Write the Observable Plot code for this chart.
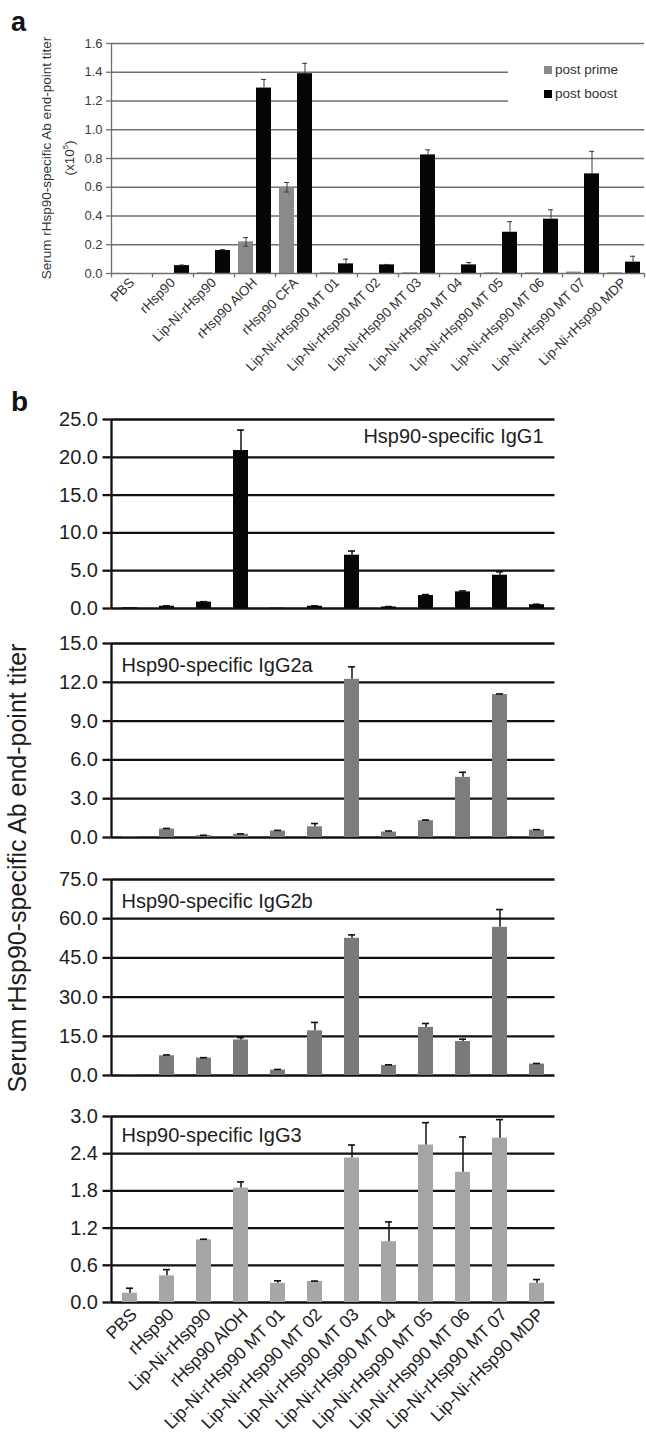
<!DOCTYPE html>
<html><head><meta charset="utf-8">
<script src="https://cdn.jsdelivr.net/npm/d3@7"></script>
<script src="https://cdn.jsdelivr.net/npm/@observablehq/plot@0.6"></script>
<style>
body{margin:0;background:#fff;font-family:"Liberation Sans",Arial,sans-serif;}
#root{position:relative;width:646px;height:1452px;overflow:hidden;background:#fff;}
.abs{position:absolute;}
</style></head><body><div id="root"></div>
<script>
// ---------- Panel a data ----------
const groupsA = ["PBS","rHsp90","Lip-Ni-rHsp90","rHsp90 AlOH","rHsp90 CFA",
  "Lip-Ni-rHsp90 MT 01","Lip-Ni-rHsp90 MT 02","Lip-Ni-rHsp90 MT 03","Lip-Ni-rHsp90 MT 04",
  "Lip-Ni-rHsp90 MT 05","Lip-Ni-rHsp90 MT 06","Lip-Ni-rHsp90 MT 07","Lip-Ni-rHsp90 MDP"];
const postPrime    = [0, 0, 0.005, 0.22, 0.60, 0.005, 0, 0.005, 0, 0.005, 0.005, 0.01, 0.005];
const postPrimeErr = [0, 0, 0, 0.03, 0.033, 0, 0, 0, 0, 0, 0, 0, 0];
const postBoost    = [0, 0.055, 0.16, 1.29, 1.39, 0.067, 0.06, 0.825, 0.06, 0.287, 0.378, 0.693, 0.079];
const postBoostErr = [0, 0.004, 0.006, 0.06, 0.072, 0.033, 0.003, 0.035, 0.016, 0.073, 0.065, 0.157, 0.041];
const yTicksA = [0, 0.2, 0.4, 0.6, 0.8, 1.0, 1.2, 1.4, 1.6];
const seriesA = ["post prime", "post boost"];

// ---------- Panel b data ----------
const groupsB = ["PBS","rHsp90","Lip-Ni-rHsp90","rHsp90 AlOH",
  "Lip-Ni-rHsp90 MT 01","Lip-Ni-rHsp90 MT 02","Lip-Ni-rHsp90 MT 03","Lip-Ni-rHsp90 MT 04",
  "Lip-Ni-rHsp90 MT 05","Lip-Ni-rHsp90 MT 06","Lip-Ni-rHsp90 MT 07","Lip-Ni-rHsp90 MDP"];
const igg1     = [0.1, 0.3, 0.85, 20.9, 0.05, 0.3, 7.05, 0.2, 1.72, 2.2, 4.4, 0.5];
const igg1Err  = [0, 0.05, 0.05, 2.7, 0, 0.05, 0.55, 0.05, 0.12, 0.12, 0.45, 0.06];
const igg2a    = [0.05, 0.65, 0.15, 0.25, 0.5, 0.83, 12.23, 0.42, 1.3, 4.65, 11.05, 0.57];
const igg2aErr = [0, 0.05, 0.02, 0.03, 0.05, 0.25, 0.97, 0.08, 0.05, 0.39, 0.05, 0.04];
const igg2b    = [0.2, 7.55, 6.67, 13.6, 2.07, 17.1, 52.5, 3.85, 18.4, 13.0, 56.7, 4.35];
const igg2bErr = [0, 0.3, 0.15, 0.9, 0.25, 3.2, 1.3, 0.25, 1.5, 0.9, 6.8, 0.25];
const igg3     = [0.15, 0.43, 1.01, 1.845, 0.31, 0.34, 2.33, 0.98, 2.54, 2.10, 2.65, 0.31];
const igg3Err  = [0.08, 0.1, 0.01, 0.1, 0.04, 0.005, 0.21, 0.32, 0.36, 0.57, 0.30, 0.06];
const ticksIgG1  = [0, 5, 10, 15, 20, 25];
const ticksIgG2a = [0, 3, 6, 9, 12, 15];
const ticksIgG2b = [0, 15, 30, 45, 60, 75];
const ticksIgG3  = [0, 0.6, 1.2, 1.8, 2.4, 3.0];

const W = 646;
const FONT = "'Liberation Sans', Arial, sans-serif";
const root = document.getElementById("root");
const fmt1 = d3.format(".1f");

function place(el, top, left = 0) {
  el.classList.add("abs");
  el.style.top = top + "px";
  el.style.left = left + "px";
  root.appendChild(el);
  return el;
}

// ================= Panel a =================
{
  const left = 111, right = 644, top = 43, bottom = 273, H = 392;
  const bw = (right - left) / groupsA.length;
  const rows = groupsA.map((g, i) => ({g, prime: postPrime[i], primeErr: postPrimeErr[i],
    boost: postBoost[i], boostErr: postBoostErr[i]}));
  const gInL = 4, gInR = bw - 19, bInL = 22, bInR = bw - 37;
  const plot = Plot.plot({
    width: W, height: H,
    marginLeft: left, marginRight: W - right, marginTop: top, marginBottom: H - bottom,
    x: {domain: groupsA, padding: 0, axis: null},
    y: {domain: [0, 1.6], axis: null},
    style: {fontFamily: FONT, background: "transparent", overflow: "visible"},
    marks: [
      Plot.ruleY(yTicksA.filter(v => v > 0), {stroke: "#6f6f6f", strokeWidth: 1.3}),
      Plot.axisY({ticks: yTicksA, tickFormat: fmt1, tickSize: 5, tickPadding: 4, label: null,
        stroke: "#6f6f6f", strokeWidth: 1.3, fill: "#3c3c3c", fontSize: 13}),
      Plot.barY(rows, {x: "g", y: "prime", fill: "#8a8a8a", insetLeft: gInL, insetRight: gInR}),
      Plot.barY(rows, {x: "g", y: "boost", fill: "#050505", insetLeft: bInL, insetRight: bInR}),
      // error bars
      Plot.ruleX(rows.filter(d => d.primeErr > 0), {x: "g", y1: d => d.prime - d.primeErr, y2: d => d.prime + d.primeErr,
        dx: -(bw / 2 - 11.5), stroke: "#3a3a3a", strokeWidth: 1}),
      Plot.tickY(rows.filter(d => d.primeErr > 0), {x: "g", y: d => d.prime + d.primeErr, stroke: "#3a3a3a",
        insetLeft: 9, insetRight: bw - 14, strokeWidth: 1}),
      Plot.tickY(rows.filter(d => d.primeErr > 0), {x: "g", y: d => d.prime - d.primeErr, stroke: "#3a3a3a",
        insetLeft: 9, insetRight: bw - 14, strokeWidth: 1}),
      Plot.ruleX(rows.filter(d => d.boostErr > 0), {x: "g", y1: "boost", y2: d => d.boost + d.boostErr,
        dx: 29.5 - bw / 2, stroke: "#3a3a3a", strokeWidth: 1}),
      Plot.tickY(rows.filter(d => d.boostErr > 0), {x: "g", y: d => d.boost + d.boostErr, stroke: "#3a3a3a",
        insetLeft: 27, insetRight: bw - 32, strokeWidth: 1}),
      // axes lines
      Plot.ruleY([0], {stroke: "#6f6f6f", strokeWidth: 1.3}),
      Plot.ruleX([groupsA[0]], {dx: -bw / 2, stroke: "#6f6f6f", strokeWidth: 1.3}),
      Plot.ruleX(groupsA, {x: d => d, dx: bw / 2, y1: 0, y2: -0.03, stroke: "#6f6f6f", strokeWidth: 1.3}),
      Plot.ruleX([groupsA[0]], {dx: -bw / 2, y1: 0, y2: -0.03, stroke: "#6f6f6f", strokeWidth: 1.3}),
      // category labels
      Plot.text(groupsA, {x: d => d, frameAnchor: "bottom", rotate: -45, textAnchor: "end",
        dx: 3, dy: 10, fontSize: 13.5, fill: "#333"})
    ]
  });
  place(plot, 0);
}

// legend of panel a (drawn over the plot area, like the original)
{
  const lg = document.createElement("div");
  lg.style.cssText = `width:137px;height:60px;background:#fff;font:13.5px ${FONT};color:#333;`;
  const colors = ["#8a8a8a", "#050505"];
  seriesA.forEach((s, i) => {
    const row = document.createElement("div");
    row.style.cssText = `position:absolute;left:36px;top:${9 + i * 24}px;white-space:nowrap;line-height:16px;`;
    row.innerHTML = `<span style="display:inline-block;width:8px;height:8px;background:${colors[i]};margin-right:3px;vertical-align:0px"></span>${s}`;
    lg.appendChild(row);
  });
  place(lg, 53, 508);
}

// panel a y label
{
  const d = document.createElement("div");
  d.style.cssText = `width:300px;font:13.5px/19px ${FONT};color:#333;text-align:center;transform:translate(-50%,-50%) rotate(-90deg);`;
  d.innerHTML = `Serum rHsp90-specific Ab end-point titer<br>(x10<sup style="font-size:8px">5</sup>)`;
  place(d, 158, 58);
}

// panel letters
{
  const a = document.createElement("div");
  a.style.cssText = `font:bold 27px/1 ${FONT};color:#111;`;
  a.textContent = "a";
  place(a, 9, 11);
  const b = document.createElement("div");
  b.style.cssText = `font:bold 28px/1 ${FONT};color:#111;`;
  b.textContent = "b";
  place(b, 388, 11);
}

// ================= Panel b =================
function panelB({values, errs, domain, ticks, color, title, titleRight, titleDy, svgTop, plotH, labels}) {
  const left = 110.5, right = 554.5, mt = 20;
  const mb = labels ? 150 : 12;
  const bw = (right - left) / groupsB.length;
  const rows = groupsB.map((g, i) => ({g, v: values[i], e: errs[i]}));
  const plot = Plot.plot({
    width: W, height: mt + plotH + mb,
    marginLeft: left, marginRight: W - right, marginTop: mt, marginBottom: mb,
    x: {domain: groupsB, padding: 0, axis: null},
    y: {domain, axis: null},
    style: {fontFamily: FONT, background: "transparent", overflow: "visible"},
    marks: [
      Plot.ruleY(ticks, {stroke: "#111", strokeWidth: 2.3}),
      Plot.axisY({ticks, tickFormat: fmt1, tickSize: 8, tickPadding: 5, label: null,
        stroke: "#111", strokeWidth: 2.3, fill: "#1e1e1e", fontSize: 20}),
      Plot.barY(rows, {x: "g", y: "v", fill: color, insetLeft: 11, insetRight: 11}),
      Plot.ruleX(rows.filter(d => d.e > 0), {x: "g", y1: "v", y2: d => d.v + d.e, stroke: "#111", strokeWidth: 1.5}),
      Plot.tickY(rows.filter(d => d.e > 0), {x: "g", y: d => d.v + d.e, stroke: "#111", strokeWidth: 1.6,
        insetLeft: bw / 2 - 3.5, insetRight: bw / 2 - 3.5}),
      Plot.ruleX([groupsB[0]], {dx: -bw / 2, stroke: "#111", strokeWidth: 2.3}),
      Plot.text([title], titleRight
        ? {frameAnchor: "top-right", dx: -11.5, dy: titleDy, fontSize: 20, fill: "#1e1e1e"}
        : {frameAnchor: "top-left", dx: 10.5, dy: titleDy, fontSize: 20, fill: "#1e1e1e"}),
      ...(labels ? [Plot.text(groupsB, {x: d => d, frameAnchor: "bottom", rotate: -45, textAnchor: "end",
        dx: 8, dy: 13, fontSize: 17.5, fill: "#1e1e1e"})] : [])
    ]
  });
  place(plot, svgTop);
}

panelB({values: igg1, errs: igg1Err, domain: [0, 25], ticks: ticksIgG1, color: "#070707",
  title: "Hsp90-specific IgG1", titleRight: true, titleDy: 9.5, svgTop: 399, plotH: 189});
panelB({values: igg2a, errs: igg2aErr, domain: [0, 15], ticks: ticksIgG2a, color: "#7d7d7d",
  title: "Hsp90-specific IgG2a", titleRight: false, titleDy: 14, svgTop: 623, plotH: 194});
panelB({values: igg2b, errs: igg2bErr, domain: [0, 75], ticks: ticksIgG2b, color: "#7a7a7a",
  title: "Hsp90-specific IgG2b", titleRight: false, titleDy: 14, svgTop: 859, plotH: 196});
panelB({values: igg3, errs: igg3Err, domain: [0, 3], ticks: ticksIgG3, color: "#a6a6a6",
  title: "Hsp90-specific IgG3", titleRight: false, titleDy: 11.5, svgTop: 1096, plotH: 186, labels: true});

// panel b shared y label
{
  const d = document.createElement("div");
  d.style.cssText = `width:520px;font:25px/1 ${FONT};color:#1e1e1e;text-align:center;transform:translate(-50%,-50%) rotate(-90deg);white-space:nowrap;`;
  d.textContent = "Serum rHsp90-specific Ab end-point titer";
  place(d, 868, 17);
}
</script></body></html>
